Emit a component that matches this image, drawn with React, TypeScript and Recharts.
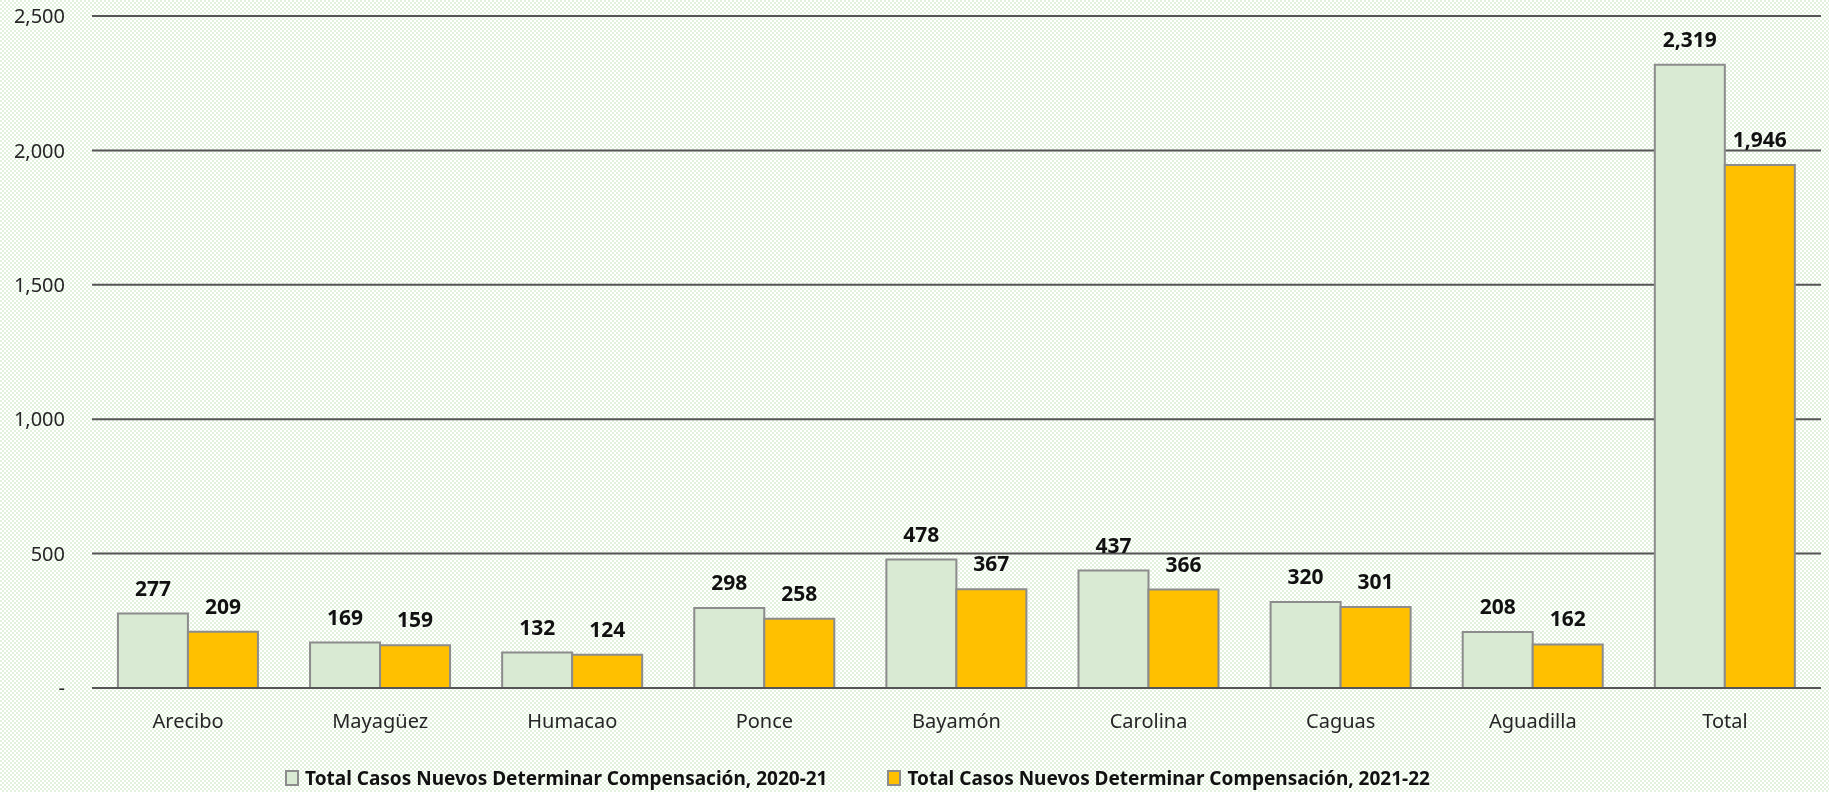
import React from 'react';
import { BarChart, Bar, XAxis, YAxis, CartesianGrid, Legend, LabelList } from 'recharts';

const regions = ['Arecibo', 'Mayagüez', 'Humacao', 'Ponce', 'Bayamón', 'Carolina', 'Caguas', 'Aguadilla', 'Total'];
const casos2021 = [277, 169, 132, 298, 478, 437, 320, 208, 2319];
const casos2122 = [209, 159, 124, 258, 367, 366, 301, 162, 1946];
const yTicks = [0, 500, 1000, 1500, 2000, 2500];

const series = [
  { key: 'a', name: 'Total Casos Nuevos Determinar Compensación, 2020-21', fill: '#d9ead3' },
  { key: 'b', name: 'Total Casos Nuevos Determinar Compensación, 2021-22', fill: '#ffc000' },
];

const data = regions.map((region, i) => ({ region, a: casos2021[i], b: casos2122[i] }));

const FONT = '"Noto Sans", "Open Sans", sans-serif';

// light green checker background
const pattern =
  "url(\"data:image/svg+xml;utf8,<svg xmlns='http://www.w3.org/2000/svg' width='4' height='4'><rect width='4' height='4' fill='white'/><rect x='0' y='0' width='2' height='2' fill='%23e3f1de'/><rect x='2' y='2' width='2' height='2' fill='%23e3f1de'/></svg>\")";

const fmt = (v: number) => (v === 0 ? '-' : v.toLocaleString('en-US'));

const LegendContent = () => (
  <div style={{ display: 'flex', gap: 60, fontFamily: FONT, fontWeight: 700, fontSize: 19, color: '#111', lineHeight: '28px' }}>
    {series.map(s => (
      <div key={s.key} style={{ display: 'flex', alignItems: 'center' }}>
        <span
          style={{
            display: 'inline-block',
            width: 10,
            height: 12,
            background: s.fill,
            border: '2px solid #8c8c8c',
            marginRight: 6,
          }}
        />
        <span>{s.name}</span>
      </div>
    ))}
  </div>
);

export default function App() {
  return (
    <div
      style={{
        position: 'fixed',
        left: 0,
        top: 0,
        width: 1829,
        height: 792,
        backgroundImage: pattern,
      }}
    >
      <BarChart
        width={1829}
        height={792}
        data={data}
        margin={{ top: 16, right: 8, bottom: 0, left: 0 }}
        barCategoryGap="13.5%"
        barGap={0}
      >
        <CartesianGrid vertical={false} stroke="#555" strokeWidth={2} />
        <XAxis
          dataKey="region"
          height={76}
          tickLine={false}
          axisLine={{ stroke: '#555', strokeWidth: 2 }}
          tickMargin={20}
          tick={{ fontFamily: FONT, fontSize: 20, fill: '#262626' }}
          interval={0}
        />
        <YAxis
          width={92}
          domain={[0, 2500]}
          ticks={yTicks}
          tickFormatter={fmt}
          axisLine={false}
          tickLine={false}
          tickMargin={21}
          tick={{ fontFamily: FONT, fontSize: 20, fill: '#262626' }}
        />
        <Legend
          verticalAlign="bottom"
          content={<LegendContent />}
          wrapperStyle={{ left: 285, width: 'auto', height: 28 }}
        />
        {series.map(s => (
          <Bar
            key={s.key}
            dataKey={s.key}
            name={s.name}
            fill={s.fill}
            stroke="#8c8c8c"
            strokeWidth={2}
            isAnimationActive={false}
          >
            <LabelList
              dataKey={s.key}
              position="top"
              offset={18}
              formatter={(v: any) => fmt(Number(v))}
              style={{ fontFamily: FONT, fontSize: 21, fontWeight: 700, fill: '#111' }}
            />
          </Bar>
        ))}
      </BarChart>
    </div>
  );
}
